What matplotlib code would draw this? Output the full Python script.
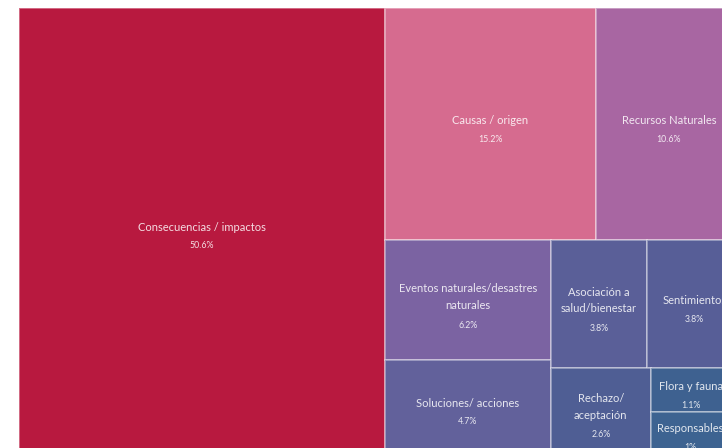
import matplotlib.pyplot as plt
from matplotlib.patches import Rectangle

# categories and shares (%)
labels = ["Consecuencias / impactos", "Causas / origen", "Recursos Naturales",
          "Eventos naturales/desastres\nnaturales", "Soluciones/ acciones",
          "Asociación a\nsalud/bienestar", "Sentimientos", "Rechazo/\naceptación",
          "Flora y fauna", "Responsables", "Otros"]
values = [50.6, 15.24, 10.56, 6.24, 4.74, 3.8, 3.8, 2.62, 1.1, 1.0, 0.3]
pct_labels = ["50.6%", "15.2%", "10.6%", "6.2%", "4.7%", "3.8%", "3.8%",
              "2.6%", "1.1%", "1%", "0.3%"]
colors = ["#B8193F", "#D66B8F", "#A866A2", "#7B63A2", "#62619B", "#5A5F98",
          "#575E97", "#4F5E94", "#3E6190", "#3D6391", "#3A6590"]

W, H = 723.0, 444.0


def worst(row, side):
    s = sum(row)
    return max(max(side * side * r / (s * s), s * s / (side * side * r)) for r in row)


def layout_row(row, x, y, w, h):
    s = sum(row)
    rects = []
    if w >= h:
        # column on the left
        cw = s / h
        yy = y
        for r in row:
            rects.append((x, yy, cw, r / cw))
            yy += r / cw
        return rects, (x + cw, y, w - cw, h)
    rh = s / w
    xx = x
    for r in row:
        rects.append((xx, y, r / rh, rh))
        xx += r / rh
    return rects, (x, y + rh, w, h - rh)


def squarify(vals, x, y, w, h):
    total = sum(vals)
    areas = [v * w * h / total for v in vals]
    rects = []
    i = 0
    while i < len(areas):
        side = min(w, h)
        row = [areas[i]]
        i += 1
        while i < len(areas) and worst(row + [areas[i]], side) <= worst(row, side):
            row.append(areas[i])
            i += 1
        r, (x, y, w, h) = layout_row(row, x, y, w, h)
        rects += r
    return rects


rects = squarify(values, 0, 0, W, H)

fig = plt.figure(figsize=(7.22, 4.48), dpi=100)
# the treemap is cut off by the right and bottom edges of the picture
ax = fig.add_axes([19 / 722, (448 - 8 - H) / 448, W / 722, H / 448])
ax.set_xlim(0, W)
ax.set_ylim(H, 0)
ax.axis("off")

for (x, y, w, h), lab, pct, c in zip(rects, labels, pct_labels, colors):
    ax.add_patch(Rectangle((x, y), w, h, facecolor=c,
                           edgecolor=(1, 1, 1, 0.4), linewidth=1.3))
    cx, cy = x + w / 2, y + h / 2
    n = lab.count("\n") + 1
    ax.annotate(lab, (cx, cy), xytext=(0, 3), textcoords="offset pixels",
                ha="center", va="center", fontsize=8, family="Lato",
                color=(1, 1, 1, 0.85), linespacing=1.6, annotation_clip=False)
    ax.annotate(pct, (cx, cy), xytext=(0, 3 - n * 9.5 - 9), textcoords="offset pixels",
                ha="center", va="center", fontsize=6.3, family="Lato",
                color=(1, 1, 1, 0.85), annotation_clip=False)

fig.savefig("out.png", dpi=100)
